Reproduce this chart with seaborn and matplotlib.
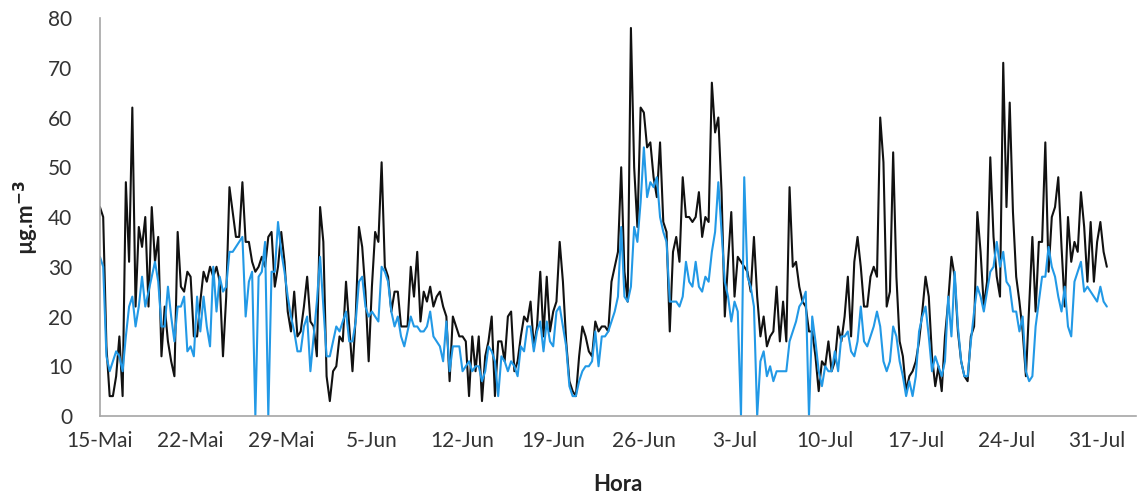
import numpy as np
import pandas as pd
import matplotlib
matplotlib.use("Agg")
import matplotlib.pyplot as plt
import seaborn as sns

# Hourly concentration record sampled every 6 hours, 15 May - 31 Jul
inicio = "2014-05-15"
passo_horas = 6

serie_preta = [
    42, 40, 14, 4, 4, 8, 16, 4, 47, 31,
    62, 22, 38, 34, 40, 22, 42, 31, 36, 12,
    22, 15, 11, 8, 37, 26, 25, 29, 28, 16,
    16, 23, 29, 27, 30, 28, 30, 27,
    12, 24, 46, 41, 36, 36, 47, 35, 35, 31,
    29, 30, 32, 30, 36, 37, 26, 30, 37, 31,
    21, 17, 25, 16, 17, 22, 28, 19, 18, 12,
    42, 35, 8, 3, 9, 10, 16,
    15, 27, 18, 9, 20, 38, 34, 25, 11, 26,
    37, 35, 51, 30, 28, 21, 25, 25, 18, 18,
    18, 30, 24, 33, 19, 25, 23, 26, 22, 24,
    25, 22, 20, 7, 20, 18, 16,
    16, 15, 4, 16, 9, 16, 3, 12, 15, 20,
    4, 15, 15, 11, 20, 21, 9, 11, 16, 20,
    19, 23, 14, 18, 29, 16, 28, 17, 21, 23,
    35, 27, 15, 7, 5, 4, 12,
    18, 16, 13, 12, 19, 17, 18, 18, 17, 27,
    30, 33, 50, 29, 23, 78, 50, 38, 62, 61,
    54, 55, 48, 44, 55, 39, 37, 17, 33, 36,
    31, 48, 40, 40, 39, 40, 45,
    36, 40, 39, 67, 57, 60, 45, 20, 31, 41,
    24, 32, 31, 30, 29, 25, 36, 24, 16, 20,
    14, 16, 17, 26, 15, 23, 15, 46, 30, 31,
    26, 23, 22, 17, 17, 12, 5,
    11, 10, 15, 9, 11, 18, 15, 20, 28, 16,
    31, 36, 30, 22, 22, 28, 30, 28, 60, 51,
    22, 25, 53, 28, 15, 12, 5, 8, 9, 11,
    15, 21, 28, 24, 12, 6, 10,
    5, 16, 23, 32, 28, 17, 11, 8, 7, 16,
    18, 41, 33, 22, 27, 52, 36, 28, 24, 71,
    42, 63, 41, 28, 23, 17, 8, 22, 36, 21,
    35, 35, 55, 29, 40, 42, 48,
    34, 22, 40, 31, 35, 33, 45, 38, 27, 39,
    27, 35, 39, 33, 30,
]

serie_azul = [
    32, 30, 12, 9, 11, 13, 12, 9, 16, 22,
    24, 18, 22, 28, 22, 25, 28, 31, 27, 18,
    18, 26, 20, 15, 22, 22, 24, 13, 14, 12,
    24, 17, 24, 18, 14, 30, 21, 28,
    25, 26, 33, 33, 34, 35, 36, 20, 27, 29,
    0, 28, 29, 35, 0, 29, 29, 39, 33, 29,
    24, 20, 17, 13, 13, 18, 20, 9, 16, 23,
    32, 22, 12, 12, 15, 18, 17,
    19, 21, 15, 15, 19, 27, 28, 22, 20, 21,
    20, 19, 30, 29, 27, 21, 18, 20, 16, 14,
    17, 20, 18, 18, 17, 17, 18, 21, 16, 15,
    14, 11, 19, 9, 14, 14, 14,
    9, 10, 11, 9, 10, 10, 7, 9, 14, 13,
    11, 4, 12, 11, 9, 11, 10, 8, 14, 13,
    18, 18, 13, 17, 19, 13, 19, 15, 14, 21,
    22, 18, 14, 6, 4, 4, 7,
    9, 10, 10, 11, 17, 10, 16, 16, 17, 19,
    21, 24, 38, 24, 23, 26, 38, 35, 43, 54,
    44, 47, 46, 48, 40, 37, 35, 23, 23, 23,
    22, 24, 31, 27, 26, 31, 26,
    25, 28, 27, 33, 37, 47, 37, 27, 24, 19,
    23, 21, 0, 48, 28, 26, 22, 0, 11, 13,
    8, 10, 7, 9, 9, 9, 9, 15, 17, 19,
    22, 23, 25, 0, 20, 15, 9,
    6, 10, 9, 9, 13, 9, 16, 16, 17, 13,
    12, 15, 22, 15, 14, 16, 18, 21, 18, 11,
    9, 11, 18, 16, 11, 8, 4, 7, 4, 8,
    17, 20, 22, 16, 9, 12, 10,
    8, 11, 24, 16, 29, 18, 11, 8, 8, 15,
    21, 26, 24, 21, 25, 29, 30, 35, 30, 33,
    27, 26, 21, 21, 17, 20, 9, 7, 8, 18,
    23, 28, 28, 34, 30, 28, 24,
    21, 26, 18, 16, 27, 29, 31, 25, 26, 25,
    24, 23, 26, 23, 22,
]

rotulos_x = ["15-Mai", "22-Mai", "29-Mai", "5-Jun", "12-Jun", "19-Jun",
             "26-Jun", "3-Jul", "10-Jul", "17-Jul", "24-Jul", "31-Jul"]
valores_y = [0, 10, 20, 30, 40, 50, 60, 70, 80]

n = len(serie_preta)
tempo = pd.date_range(inicio, periods=n, freq=f"{passo_horas}h")
dados = pd.DataFrame({
    "Hora": np.concatenate([tempo.values, tempo.values]),
    "conc": serie_preta + serie_azul,
    "serie": ["preta"] * n + ["azul"] * n,
})

sns.set_theme(style="white")
plt.rcParams["font.family"] = ["Lato", "DejaVu Sans"]

fig = plt.figure(figsize=(11.41, 4.99), dpi=100)
ax = fig.add_axes([0.0876, 0.1663, 0.9080, 0.7976])

sns.lineplot(data=dados, x="Hora", y="conc", hue="serie",
             hue_order=["preta", "azul"],
             palette={"preta": "#111111", "azul": "#2299E6"},
             estimator=None, linewidth=1.5, legend=False, ax=ax)

t0 = pd.Timestamp(inicio)
ax.set_xlim(t0, t0 + pd.Timedelta(days=80))
ax.set_ylim(0, 80)

marcas = pd.date_range(inicio, periods=len(rotulos_x), freq="7D")
ax.set_xticks(marcas)
ax.set_xticklabels(rotulos_x)
ax.set_yticks(valores_y)
ax.set_yticklabels([str(v) for v in valores_y])

ax.tick_params(axis="both", length=0, labelsize=15, colors="#333333")
ax.tick_params(axis="y", pad=20)
ax.tick_params(axis="x", pad=11)

for lado in ["top", "right"]:
    ax.spines[lado].set_visible(False)
for lado in ["left", "bottom"]:
    ax.spines[lado].set_color("#A6A6A6")
    ax.spines[lado].set_linewidth(1.2)

ax.set_xlabel("Hora", fontsize=16, fontweight="bold", color="#222222", labelpad=16)
ax.set_ylabel("µg.m$^{\\mathbf{-3}}$", fontsize=16, fontweight="bold", color="#222222", labelpad=5)

fig.savefig("out.png", dpi=100)
